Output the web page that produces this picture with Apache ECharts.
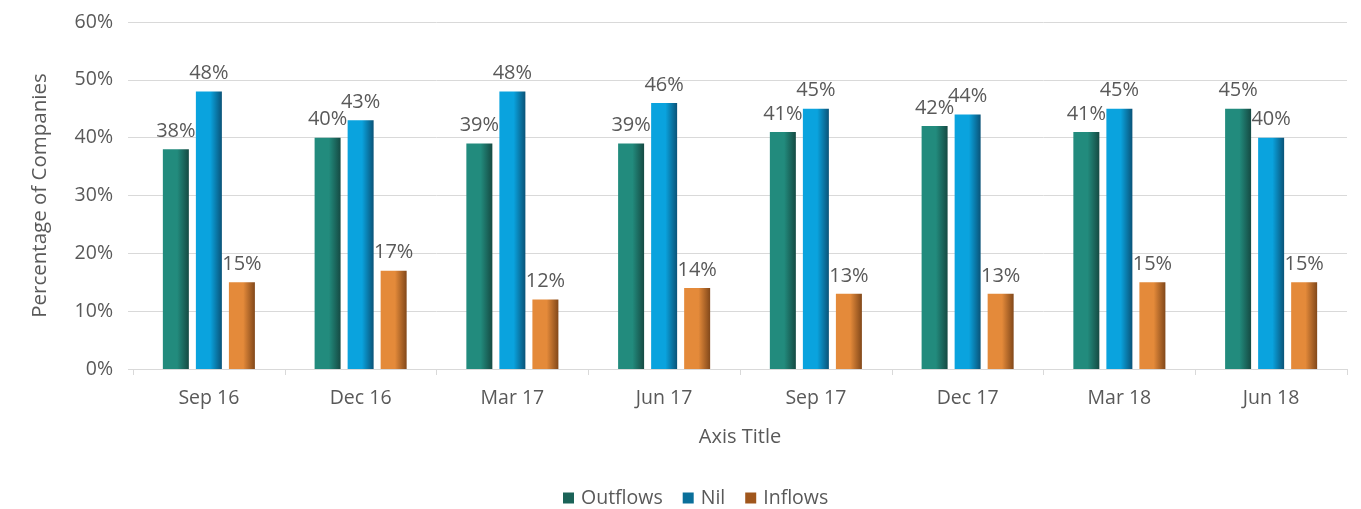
<!DOCTYPE html>
<html>
<head>
<meta charset="utf-8">
<script src="https://cdn.jsdelivr.net/npm/echarts@6/dist/echarts.min.js"></script>
<style>
  html, body { margin: 0; padding: 0; background: #fff; }
  #chart { width: 1361px; height: 509px; }
</style>
</head>
<body>
<div id="chart"></div>
<script>
const categories = ['Sep 16', 'Dec 16', 'Mar 17', 'Jun 17', 'Sep 17', 'Dec 17', 'Mar 18', 'Jun 18'];
const outflows = [38, 40, 39, 39, 41, 42, 41, 45];
const nil = [48, 43, 48, 46, 45, 44, 45, 40];
const inflows = [15, 17, 12, 14, 13, 13, 15, 15];
const yTicks = [0, 10, 20, 30, 40, 50, 60];

const FONT = '"Open Sans", "Noto Sans", sans-serif';
const TEXT = '#595959';

function shade(light, dark) {
  return new echarts.graphic.LinearGradient(0, 0, 1, 0, [
    { offset: 0, color: light },
    { offset: 0.55, color: light },
    { offset: 1, color: dark }
  ]);
}

function barSeries(name, data, light, dark) {
  return {
    name: name,
    type: 'bar',
    data: data,
    barWidth: 26,
    barGap: '27%',
    itemStyle: { color: shade(light, dark) },
    label: {
      show: true,
      position: 'top',
      distance: 8,
      formatter: '{c}%',
      color: TEXT,
      fontFamily: FONT,
      fontSize: 20
    },
    emphasis: { disabled: true }
  };
}

const chart = echarts.init(document.getElementById('chart'), null, { renderer: 'canvas' });
chart.setOption({
  animation: false,
  textStyle: { fontFamily: FONT },
  grid: { left: 133, right: 14, top: 22, bottom: 140 },
  legend: {
    bottom: -4,
    left: 558,
    itemWidth: 11,
    itemHeight: 11,
    itemGap: 20,
    icon: 'rect',
    textStyle: { color: TEXT, fontSize: 19.5, fontFamily: FONT, padding: [0, 0, 0, 2] },
    data: [
      { name: 'Outflows', itemStyle: { color: '#1b6358' } },
      { name: 'Nil', itemStyle: { color: '#0a6f9a' } },
      { name: 'Inflows', itemStyle: { color: '#a0561c' } }
    ]
  },
  xAxis: {
    type: 'category',
    data: categories,
    name: 'Axis Title',
    nameLocation: 'middle',
    nameGap: 58,
    nameTextStyle: { color: TEXT, fontSize: 20, fontFamily: FONT },
    axisLine: { lineStyle: { color: '#d9d9d9' } },
    axisTick: { show: true, length: 6, lineStyle: { color: '#d9d9d9' } },
    axisLabel: { color: TEXT, fontSize: 19.5, fontFamily: FONT, margin: 19 }
  },
  yAxis: {
    type: 'value',
    min: yTicks[0],
    max: yTicks[yTicks.length - 1],
    interval: 10,
    name: 'Percentage of Companies',
    nameLocation: 'middle',
    nameGap: 82,
    nameTextStyle: { color: TEXT, fontSize: 20.5, fontFamily: FONT },
    axisLine: { show: false },
    axisTick: { show: true, length: 5, lineStyle: { color: '#d9d9d9' } },
    axisLabel: { color: TEXT, fontSize: 19.5, fontFamily: FONT, margin: 20, formatter: '{value}%' },
    splitLine: { lineStyle: { color: '#d9d9d9', width: 1 } }
  },
  series: [
    barSeries('Outflows', outflows, '#228b7d', '#154a43'),
    barSeries('Nil', nil, '#0aa3de', '#0a5378'),
    barSeries('Inflows', inflows, '#e48a3a', '#82481a')
  ]
});
</script>
</body>
</html>
